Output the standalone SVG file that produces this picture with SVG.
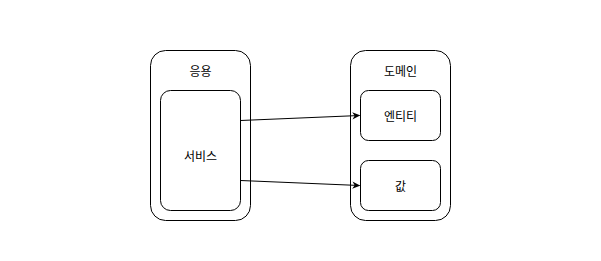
<svg xmlns="http://www.w3.org/2000/svg" width="601" height="261" viewBox="0 0 601 261">
<defs>
<marker id="arr" viewBox="0 0 10 10" refX="9" refY="5" markerWidth="8" markerHeight="8" markerUnits="userSpaceOnUse" orient="auto">
<path d="M0,0.5 L10,5 L0,9.5 L3,5 Z" fill="#000"/>
</marker>
</defs>
<style>
.box{fill:#fff;stroke:#000;stroke-width:1}
.t{font-family:"Noto Sans CJK KR","Liberation Sans",sans-serif;font-size:12px;fill:#000;text-anchor:middle;dominant-baseline:central}
.edge{stroke:#000;stroke-width:1;fill:none;marker-end:url(#arr)}
</style>
<rect width="601" height="261" fill="#fff"/>
<g id="app">
<rect class="box" x="150.5" y="50.5" width="100" height="170" rx="15"/>
<text class="t" x="200.5" y="70">응용</text>
</g>
<g id="service">
<rect class="box" x="160.5" y="90.5" width="80" height="120" rx="10"/>
<text class="t" x="200.5" y="155">서비스</text>
</g>
<g id="domain">
<rect class="box" x="350.5" y="50.5" width="100" height="170" rx="15"/>
<text class="t" x="400.5" y="70">도메인</text>
</g>
<g id="entity">
<rect class="box" x="360.5" y="90.5" width="80" height="50" rx="8"/>
<text class="t" x="400.5" y="115">엔티티</text>
</g>
<g id="value">
<rect class="box" x="360.5" y="160.5" width="80" height="50" rx="8"/>
<text class="t" x="400.5" y="185">값</text>
</g>
<g id="connectors">
<line class="edge" x1="240.5" y1="120.5" x2="359.5" y2="115.5"/>
<line class="edge" x1="240.5" y1="180.5" x2="359.5" y2="185.5"/>
</g>
</svg>
